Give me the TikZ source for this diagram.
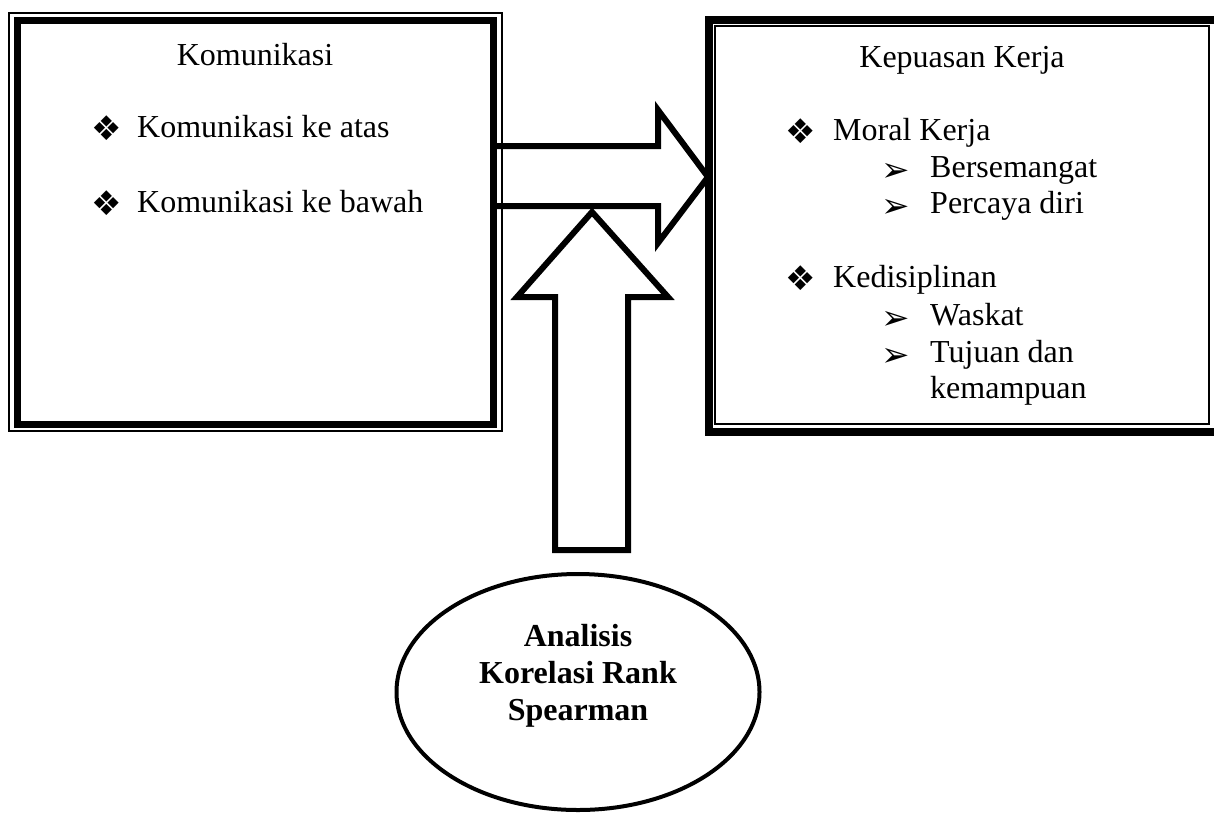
\documentclass[tikz,border=0pt]{standalone}
\usepackage{fontspec}
\setmainfont{Liberation Serif}
\newfontfamily\symfont{DejaVu Sans}
\usetikzlibrary{shapes.geometric,calc}
\tikzset{
  txt/.style={anchor=base west, inner sep=0pt, font=\fontsize{32}{37}\selectfont},
  ttl/.style={anchor=base, inner sep=0pt, font=\fontsize{32}{37}\selectfont},
  bul/.style={anchor=base west, inner sep=0pt, font=\symfont\fontsize{34}{40}\selectfont},
  arr/.style={anchor=base west, inner sep=0pt, font=\symfont\fontsize{34}{40}\selectfont},
  blockarrow/.style={line width=6pt, line join=miter, fill=white},
  boxarea/.style={rectangle, inner sep=0pt},
}
\begin{document}
\begin{tikzpicture}[x=1pt,y=-1pt]
\useasboundingbox (0,0) rectangle (1214,814);
\clip (0,0) rectangle (1214,814);
\fill[white] (0,0) rectangle (1214,814);

% box areas
\node[boxarea, minimum width=493pt, minimum height=418pt] (kom) at (255.5,222) {};
\node[boxarea, minimum width=494pt, minimum height=398pt] (kep) at (962,225) {};
\node[draw, ellipse, line width=4pt, minimum width=363pt, minimum height=236pt, inner sep=0pt] (anal) at (578,692) {};
\node[font=\bfseries\fontsize{32}{37}\selectfont, align=center, inner sep=0pt] (analtxt) at ([yshift=16pt]anal.center) {Analisis\\Korelasi Rank\\Spearman};

% block arrows
\coordinate (htail) at (494,176);
\coordinate (htip) at (708,177);
\coordinate (vtip) at (592,212);
\coordinate (vtail) at (592,550);
\draw[blockarrow] (htail |- 0,146) -- (658,146) -- (658,110) -- (htip) -- (658,243) -- (658,206) -- (htail |- 0,206);
\draw[blockarrow] (555,550) -- (555,297) -- (517,297) -- (vtip) -- (668,297) -- (628,297) -- (628,550) -- cycle;

% box borders
\draw[line width=2pt] (kom.north west) rectangle (kom.south east);
\draw[line width=7pt] ($(kom.north west)+(9,7.5)$) rectangle ($(kom.south east)+(-9,-7)$);
\draw[line width=2pt] (kep.north west) rectangle (kep.south east);
\draw[line width=8.5pt] ($(kep.north west)+(-6,-6)$) rectangle ($(kep.south east)+(9,8)$);

% left box text
\node[ttl] (komt) at (255,65) {Komunikasi};
\node[bul] (kb1) at (91,140) {❖};
\node[txt] (k1) at (137,137) {Komunikasi ke atas};
\node[bul] (kb2) at (91,215) {❖};
\node[txt] (k2) at (137,212) {Komunikasi ke bawah};

% right box text
\node[ttl] (kept) at (962,67) {Kepuasan Kerja};
\node[bul] (rb1) at (785,143) {❖};
\node[txt] (r1) at (833,140) {Moral Kerja};
\node[arr] (ra1) at (881,181) {➢};
\node[txt] (r11) at (930,177) {Bersemangat};
\node[arr] (ra2) at (881,217) {➢};
\node[txt] (r12) at (930,213) {Percaya diri};
\node[bul] (rb2) at (785,290) {❖};
\node[txt] (r2) at (833,287) {Kedisiplinan};
\node[arr] (ra3) at (881,329) {➢};
\node[txt] (r21) at (930,325) {Waskat};
\node[arr] (ra4) at (881,366) {➢};
\node[txt] (r22) at (930,362) {Tujuan dan};
\node[txt] (r23) at (930,398) {kemampuan};
\end{tikzpicture}
\end{document}
